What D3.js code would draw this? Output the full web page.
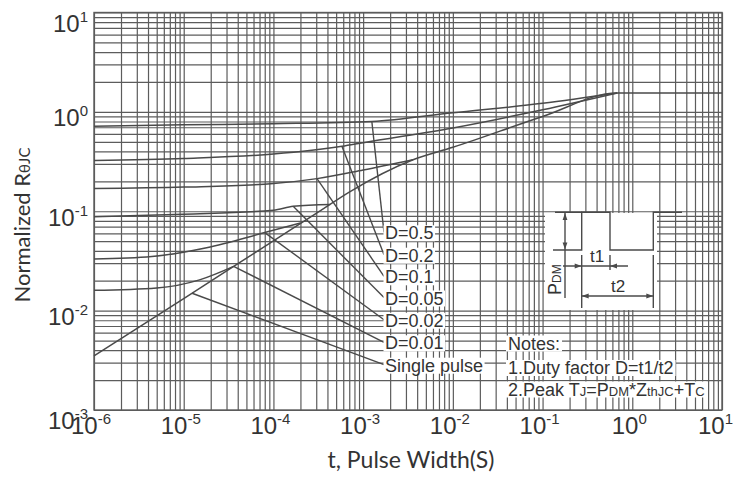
<!DOCTYPE html>
<html>
<head>
<meta charset="utf-8">
<script src="https://cdn.jsdelivr.net/npm/d3@7"></script>
<style>
  html, body { margin: 0; padding: 0; background: #fff; }
  svg { display: block; }
</style>
</head>
<body>
<svg id="chart" width="735" height="481"></svg>
<script>
// Normalized transient thermal impedance vs. pulse width, one curve per duty factor.

const seriesLabels = ["D=0.5", "D=0.2", "D=0.1", "D=0.05", "D=0.02", "D=0.01", "Single pulse"];

const tD05 = [1e-6, 1e-5, 1e-4, 1.25e-3, 1e-2, 1e-1, 0.68];
const zD05 = [0.715, 0.74, 0.76, 0.80, 0.98, 1.22, 1.55];

const tD02 = [1e-6, 1e-5, 1e-4, 5.8e-4, 1e-3, 1e-2, 1e-1, 0.68];
const zD02 = [0.324, 0.34, 0.376, 0.45, 0.49, 0.69, 1.05, 1.55];

const tD01 = [1e-6, 1e-5, 1e-4, 3.06e-4, 1e-3, 3.6e-3];
const zD01 = [0.169, 0.175, 0.19, 0.213, 0.26, 0.33];

const tD005 = [1e-6, 1e-5, 1e-4, 1.66e-4, 4.3e-4];
const zD005 = [0.088, 0.0935, 0.1026, 0.112, 0.117];

const tD002 = [1e-6, 4.4e-6, 1.8e-5, 8e-5, 2e-4];
const zD002 = [0.033, 0.035, 0.043, 0.061, 0.076];

const tD001 = [1e-6, 5e-6, 1.5e-5, 3.6e-5];
const zD001 = [0.016, 0.0169, 0.0204, 0.0279];

const tSingle = [1e-6, 1e-5, 1e-4, 3e-4, 7e-4, 3.6e-3, 1e-2, 1e-1, 0.68, 10];
const zSingle = [0.0035, 0.0132, 0.0504, 0.095, 0.156, 0.33, 0.44, 0.90, 1.55, 1.55];

// pulse width at which each label's leader line touches its curve
const leaderT = [1.25e-3, 5.8e-4, 3.06e-4, 1.66e-4, 8e-5, 3.6e-5, 1.24e-5];

const xExponents = [-6, -5, -4, -3, -2, -1, 0, 1];
const yExponents = [-3, -2, -1, 0, 1];

const noteLines = [
  [["Notes:", false]],
  [["1.Duty factor D=t1/t2", false]],
  [["2.Peak T", false], ["J", true], ["=P", false], ["DM", true], ["*Z", false], ["thJC", true], ["+T", false], ["C", true]]
];

const xTitle = "t, Pulse Width(S)";
const yTitleMain = "Normalized R";
const yTitleSub = "\u03B8JC";

// ---------------------------------------------------------------
const svg = d3.select("#chart");
const pL = 94, pR = 722, pT = 12.5, pB = 410;
const x = d3.scaleLog().domain([1e-6, 10]).range([pL, pR]);
const y = d3.scaleLog().domain([1e-3, 10]).range([pB, pT]);

const INK = "#4a4a4a";
const GRID = "#5c5c5c";
const TEXT = "#333";
const FONT = "'Liberation Sans', Arial, sans-serif";

function decadeValues(lo, hi) {
  const v = [];
  for (let e = lo; e < hi; e++) for (let k = 1; k <= 9; k++) v.push(+(k + "e" + e));
  v.push(+("1e" + hi));
  return v;
}

// grid drawn with d3 axes
const xGrid = svg.append("g")
  .attr("transform", `translate(0,${pB})`)
  .call(d3.axisBottom(x).tickValues(decadeValues(-6, 1)).tickSize(-(pB - pT)).tickFormat(""));
const yGrid = svg.append("g")
  .attr("transform", `translate(${pL},0)`)
  .call(d3.axisLeft(y).tickValues(decadeValues(-3, 1)).tickSize(-(pR - pL)).tickFormat(""));
[xGrid, yGrid].forEach(g => {
  g.select(".domain").remove();
  g.selectAll("line").attr("stroke", GRID).attr("stroke-width", 1.2);
});

// frame
svg.append("rect")
  .attr("x", pL).attr("y", pT).attr("width", pR - pL).attr("height", pB - pT)
  .attr("fill", "none").attr("stroke", GRID).attr("stroke-width", 1.4);

// curves
const seriesT = [tD05, tD02, tD01, tD005, tD002, tD001, tSingle];
const seriesZ = [zD05, zD02, zD01, zD005, zD002, zD001, zSingle];
const line = d3.line().x(d => x(d[0])).y(d => y(d[1])).curve(d3.curveMonotoneX);
const curveG = svg.append("g").attr("fill", "none").attr("stroke", INK).attr("stroke-width", 1.5);
seriesT.forEach((ts, i) => {
  curveG.append("path").attr("d", line(ts.map((t, j) => [t, seriesZ[i][j]])));
});

function interpLog(ts, zs, t) {
  for (let j = 0; j < ts.length - 1; j++) {
    if (t >= ts[j] && t <= ts[j + 1]) {
      const f = (Math.log10(t) - Math.log10(ts[j])) / (Math.log10(ts[j + 1]) - Math.log10(ts[j]));
      return Math.pow(10, Math.log10(zs[j]) + f * (Math.log10(zs[j + 1]) - Math.log10(zs[j])));
    }
  }
  return zs[zs.length - 1];
}

// white backing behind a text element
function backText(g, textSel, padX, padTop, padBottom) {
  const b = textSel.node().getBBox();
  g.insert("rect", "text")
    .attr("x", b.x - padX).attr("y", b.y - padTop)
    .attr("width", b.width + 2 * padX).attr("height", b.height + padTop + padBottom)
    .attr("fill", "#fff");
}

// inset: pulse train sketch on a white patch
const inset = svg.append("g");
inset.append("rect").attr("x", 545).attr("y", 213).attr("width", 112).attr("height", 97).attr("fill", "#fff");
const ig = inset.append("g").attr("stroke", INK).attr("stroke-width", 1.4).attr("fill", "none");
ig.append("path").attr("d", "M553,250 H581.7 V212.3 H610 V250 H653.3 V212.3 H682");
ig.append("path").attr("d", "M555,212.3 H581.7");
ig.append("path").attr("d", "M565,213 V298");
ig.append("path").attr("d", "M581.7,255 V308 M610,255 V270 M653.3,255 V308");
ig.append("path").attr("d", "M563,266 H628");
ig.append("path").attr("d", "M581.7,296 H653.3");
function arrowHead(tx, ty, dir) {
  const L = 7, W = 2.4;
  let p;
  if (dir === "up") p = `M${tx},${ty} L${tx - W},${ty + L} L${tx + W},${ty + L} Z`;
  if (dir === "down") p = `M${tx},${ty} L${tx - W},${ty - L} L${tx + W},${ty - L} Z`;
  if (dir === "right") p = `M${tx},${ty} L${tx - L},${ty - W} L${tx - L},${ty + W} Z`;
  if (dir === "left") p = `M${tx},${ty} L${tx + L},${ty - W} L${tx + L},${ty + W} Z`;
  inset.append("path").attr("d", p).attr("fill", INK);
}
arrowHead(565, 213, "up");
arrowHead(565, 249.5, "down");
arrowHead(581.7, 266, "right");
arrowHead(610, 266, "left");
arrowHead(581.7, 296, "left");
arrowHead(653.3, 296, "right");
inset.append("text").attr("x", 597).attr("y", 261.5).attr("text-anchor", "middle")
  .attr("font-family", FONT).attr("font-size", 17).attr("fill", TEXT).text("t1");
inset.append("text").attr("x", 618).attr("y", 291.5).attr("text-anchor", "middle")
  .attr("font-family", FONT).attr("font-size", 17).attr("fill", TEXT).text("t2");
const pdm = inset.append("text").attr("transform", "translate(561,295) rotate(-90)")
  .attr("font-family", FONT).attr("font-size", 18).attr("fill", TEXT);
pdm.append("tspan").text("P");
pdm.append("tspan").attr("font-size", 12).text("DM");

// curve labels with leader lines
const labelG = svg.append("g");
const labelX = 385;
const labelBase = [239.3, 261.7, 283.3, 304.5, 326.7, 349.3, 371.7];
seriesLabels.forEach((name, i) => {
  const t0 = leaderT[i];
  const z0 = interpLog(seriesT[i], seriesZ[i], t0);
  labelG.append("line")
    .attr("x1", x(t0)).attr("y1", y(z0))
    .attr("x2", labelX - 1).attr("y2", labelBase[i] - 7)
    .attr("stroke", INK).attr("stroke-width", 1.4);
  const g = labelG.append("g");
  const tx = g.append("text").attr("x", labelX).attr("y", labelBase[i])
    .attr("font-family", FONT).attr("font-size", 18).attr("fill", TEXT).text(name);
  backText(g, tx, 1.5, -2, -2);
});

// notes block
const notesG = svg.append("g");
const noteBase = [349.5, 374, 395.5];
noteLines.forEach((segs, i) => {
  const g = notesG.append("g");
  const tx = g.append("text").attr("x", 508).attr("y", noteBase[i])
    .attr("font-family", FONT).attr("font-size", 18).attr("fill", TEXT);
  segs.forEach(([s, sub]) => {
    tx.append("tspan").attr("font-size", sub ? 13 : 18).text(s);
  });
  backText(g, tx, 2, -2, -2);
});

// tick labels
const tickG = svg.append("g").attr("font-family", FONT).attr("fill", TEXT);
xExponents.forEach(e => {
  const gx = x(Math.pow(10, e));
  const t = tickG.append("text").attr("y", 434);
  t.append("tspan").attr("font-size", 24).text("10");
  t.append("tspan").attr("font-size", 15).attr("dy", -10).text(String(e));
  const w = t.node().getComputedTextLength();
  const cx = Math.min(gx - 3, 733 - w / 2);
  t.attr("x", cx - w / 2);
});
yExponents.forEach(e => {
  const gy = y(Math.pow(10, e));
  const base = e === 1 ? gy + 19 : (e === -3 ? gy + 19 : gy + 14.5);
  const t = tickG.append("text").attr("x", 88).attr("y", base).attr("text-anchor", "end");
  t.append("tspan").attr("font-size", 24).text("10");
  t.append("tspan").attr("font-size", 15).attr("dy", -10).text(String(e));
});

// axis titles
svg.append("text").attr("x", 411).attr("y", 468).attr("text-anchor", "middle")
  .attr("font-family", "Lato, 'Open Sans', sans-serif").attr("font-size", 23).attr("fill", TEXT)
  .text(xTitle);
const yt = svg.append("text").attr("transform", "translate(30,225) rotate(-90)")
  .attr("text-anchor", "middle")
  .attr("font-family", "Lato, 'Open Sans', sans-serif").attr("font-size", 22).attr("fill", TEXT);
yt.append("tspan").text(yTitleMain);
yt.append("tspan").attr("font-size", 15).text(yTitleSub);
</script>
</body>
</html>
